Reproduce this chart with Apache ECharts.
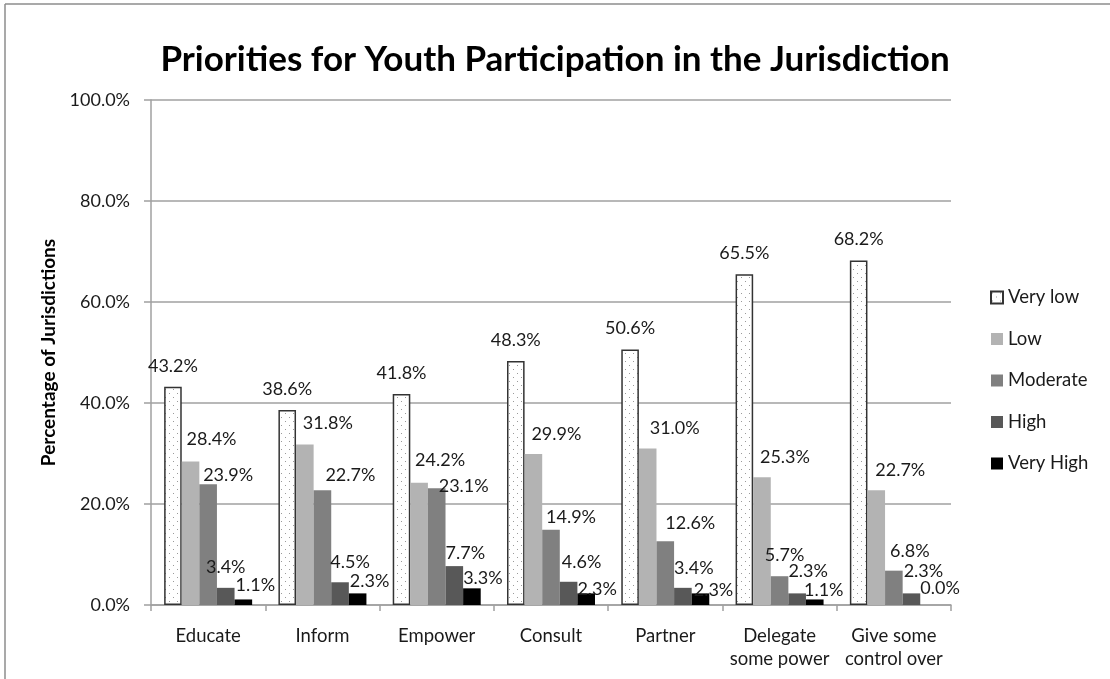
<!DOCTYPE html>
<html>
<head>
<meta charset="utf-8">
<script src="https://cdn.jsdelivr.net/npm/echarts@6/dist/echarts.min.js"></script>
<style>
  html, body { margin: 0; padding: 0; background: #fff; }
  #chart { width: 1110px; height: 679px; }
</style>
</head>
<body>
<div id="chart"></div>
<script>
// Categories and series values (percent of jurisdictions)
const categories = ['Educate', 'Inform', 'Empower', 'Consult', 'Partner', 'Delegate\nsome power', 'Give some\ncontrol over'];
const seriesNames = ['Very low', 'Low', 'Moderate', 'High', 'Very High'];
const veryLow  = [43.2, 38.6, 41.8, 48.3, 50.6, 65.5, 68.2];
const low      = [28.4, 31.8, 24.2, 29.9, 31.0, 25.3, 22.7];
const moderate = [23.9, 22.7, 23.1, 14.9, 12.6, 5.7, 6.8];
const high     = [3.4, 4.5, 7.7, 4.6, 3.4, 2.3, 2.3];
const veryHigh = [1.1, 2.3, 3.3, 2.3, 2.3, 1.1, 0.0];
const yTicks   = [0, 20, 40, 60, 80, 100];

// Label nudges per bar: [dx, distance of label centre above bar top]
const labelNudge = [
  [[0,21],[0,21],[0,21],[0,21],[0,21],[0,21],[0,21]],
  [[21,22],[23,21],[21,23],[23,20],[27,20],[23,20],[24,20]],
  [[20,9],[28,15],[27,2],[20,13],[25,18],[5,21],[16,19]],
  [[0,21],[10,20],[11,13],[13,20],[11,20],[11,22],[12,22]],
  [[12,14],[12,12],[11,10],[11,4],[13,3],[9,9],[11,17]]
];

// Dotted fill for the "Very low" bars
function dotPattern() {
  const c = document.createElement('canvas');
  c.width = 8; c.height = 8;
  const g = c.getContext('2d');
  g.fillStyle = '#ffffff';
  g.fillRect(0, 0, 8, 8);
  g.fillStyle = '#9a9a9a';
  g.fillRect(1, 1, 1, 1);
  g.fillRect(5, 5, 1, 1);
  return c;
}

const FONT = 'Lato, "Open Sans", sans-serif';
const fills = [
  { image: dotPattern(), repeat: 'repeat' },
  '#b3b3b3', '#808080', '#585858', '#000000'
];
const values = [veryLow, low, moderate, high, veryHigh];

const series = values.map((vals, s) => ({
  name: seriesNames[s],
  type: 'bar',
  barWidth: 17.6,
  barGap: '0%',
  itemStyle: s === 0
    ? { color: fills[0], borderColor: '#333333', borderWidth: 1.5 }
    : { color: fills[s] },
  data: vals.map((v, i) => ({
    value: v,
    label: {
      show: true,
      position: ['50%', 0],
      align: 'center',
      verticalAlign: 'middle',
      offset: [labelNudge[s][i][0], -labelNudge[s][i][1]],
      formatter: (p) => p.value.toFixed(1) + '%',
      fontFamily: FONT,
      fontSize: 18,
      color: '#1a1a1a'
    }
  }))
}));

const chart = echarts.init(document.getElementById('chart'), null, { renderer: 'canvas' });
chart.setOption({
  animation: false,
  backgroundColor: '#ffffff',
  title: {
    text: 'Priorities for Youth Participation in the Jurisdiction',
    left: 'center',
    top: 37,
    textStyle: { fontFamily: FONT, fontWeight: 'bold', fontSize: 35, color: '#000000' }
  },
  legend: {
    orient: 'vertical',
    left: 985,
    top: 283,
    itemWidth: 12,
    itemHeight: 12,
    itemGap: 22.5,
    icon: 'rect',
    textStyle: { fontFamily: FONT, fontSize: 18.5, lineHeight: 17, color: '#1a1a1a' },
    data: seriesNames
  },
  grid: { left: 151, right: 159, top: 100, bottom: 74, containLabel: false },
  xAxis: {
    type: 'category',
    data: categories,
    axisLine: { lineStyle: { color: '#a0a0a0', width: 1.5 } },
    axisTick: { show: true, length: 6, lineStyle: { color: '#a0a0a0', width: 1.5 } },
    axisLabel: { margin: 20, fontFamily: FONT, fontSize: 18.5, lineHeight: 23, color: '#1a1a1a', interval: 0 }
  },
  yAxis: {
    type: 'value',
    min: 0,
    max: 100,
    interval: 20,
    name: 'Percentage of Jurisdictions',
    nameLocation: 'middle',
    nameRotate: 90,
    nameGap: 81,
    nameTextStyle: { fontFamily: FONT, fontWeight: 'bold', fontSize: 19, color: '#000000' },
    axisLine: { show: true, lineStyle: { color: '#a0a0a0', width: 1.5 } },
    axisTick: { show: true, length: 7, lineStyle: { color: '#a0a0a0', width: 1.5 } },
    axisLabel: {
      margin: 21,
      fontFamily: FONT,
      fontSize: 18,
      color: '#1a1a1a',
      formatter: (v) => yTicks.includes(v) ? v.toFixed(1) + '%' : ''
    },
    splitLine: { lineStyle: { color: '#a0a0a0', width: 1.5 } }
  },
  graphic: [
    { type: 'line', shape: { x1: 5, y1: 4, x2: 5, y2: 679 }, style: { stroke: '#8c8c8c', lineWidth: 1.5 } },
    { type: 'line', shape: { x1: 5, y1: 4, x2: 1110, y2: 4 }, style: { stroke: '#8c8c8c', lineWidth: 1.5 } }
  ],
  series: series
});
</script>
</body>
</html>
